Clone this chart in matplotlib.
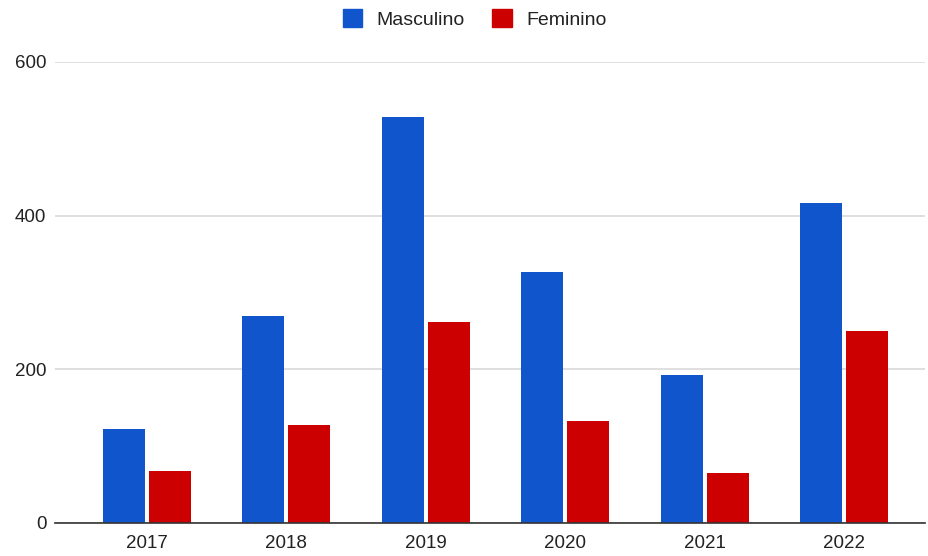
import matplotlib
matplotlib.use("Agg")
import matplotlib.pyplot as plt
from matplotlib.patches import Patch
import numpy as np

anos = ["2017", "2018", "2019", "2020", "2021", "2022"]
masculino = [122, 270, 529, 327, 193, 417]
feminino = [67, 127, 261, 133, 65, 250]

cor_m = "#1155cc"
cor_f = "#cc0000"

plt.rcParams["font.family"] = ["Liberation Sans", "DejaVu Sans"]

fig = plt.figure(figsize=(9.29, 5.56), dpi=100)
ax = fig.add_axes([0.059, 0.0594, 0.937, 0.8291])

x = np.arange(len(anos))
larg = 0.30
ax.bar(x - larg / 2 - 0.015, masculino, width=larg, color=cor_m, label="Masculino")
ax.bar(x + larg / 2 + 0.015, feminino, width=larg, color=cor_f, label="Feminino")

ax.set_xlim(-0.66, 5.58)
ax.set_ylim(0, 600)
ax.set_yticks([0, 200, 400, 600])
ax.set_xticks(x)
ax.set_xticklabels(anos)

ax.grid(axis="y", color="#d9d9d9", lw=1.2)
ax.set_axisbelow(True)
for lado in ("top", "right", "left"):
    ax.spines[lado].set_visible(False)
ax.spines["bottom"].set_color("#333333")
ax.spines["bottom"].set_linewidth(1.2)
ax.spines["bottom"].set_zorder(3)
ax.tick_params(axis="both", length=0, labelsize=13.5, colors="#222222")
ax.tick_params(axis="y", pad=6)
ax.tick_params(axis="x", pad=9)

alcas = [Patch(color=cor_m), Patch(color=cor_f)]
fig.legend(alcas, ["Masculino", "Feminino"], loc="center", bbox_to_anchor=(0.511, 0.966),
           ncol=2, frameon=False, fontsize=14, handlelength=1.0, handleheight=1.0,
           handletextpad=0.75, columnspacing=1.4, labelcolor="#222222")

fig.savefig("out.png", dpi=100)
